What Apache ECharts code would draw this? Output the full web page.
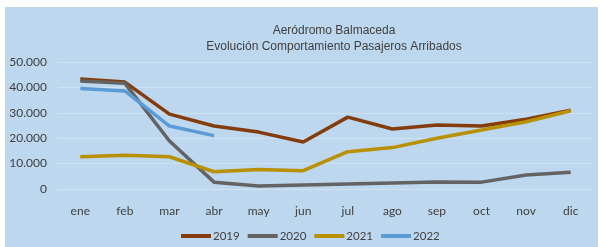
<!DOCTYPE html>
<html><head><meta charset="utf-8">
<script src="https://cdn.jsdelivr.net/npm/echarts@6/dist/echarts.min.js"></script>
<style>
html,body{margin:0;padding:0;background:#fff;}
#bg{position:absolute;left:5px;top:7px;width:593px;height:240px;background:#BDD7EE;}
#c{position:absolute;left:0;top:0;width:601px;height:247px;}
</style></head>
<body><div id="bg"></div><div id="c"></div>
<script>
const categories = ['ene','feb','mar','abr','may','jun','jul','ago','sep','oct','nov','dic'];
const s2019 = [43300, 42100, 29500, 24800, 22400, 18500, 28300, 23600, 25200, 24800, 27500, 31000];
const s2020 = [42500, 41600, 18900, 2700, 1200, 1600, 2000, 2400, 2800, 2700, 5500, 6600];
const s2021 = [12700, 13300, 12700, 6800, 7700, 7200, 14700, 16300, 20000, 23200, 26500, 30800];
const s2022 = [39600, 38600, 24800, 21000];
const yTicks = {min:0, max:50000, interval:10000};
const titleLines = ['Aeródromo Balmaceda','Evolución Comportamiento Pasajeros Arribados'];

const fmt = v => v === 0 ? '0' : String(v).replace(/\B(?=(\d{3})+(?!\d))/g, '.');
const mk = (name, data, color) => ({name, type:'line', data, symbol:'none', smooth:false,
  lineStyle:{width:3.5, color}, itemStyle:{color}});
const chart = echarts.init(document.getElementById('c'));
chart.setOption({
  backgroundColor:'transparent',
  animation:false,
  title:{text:titleLines.join('\n'), left:329, top:18, textAlign:'center',
    textStyle:{fontFamily:'Liberation Sans', fontSize:12, fontWeight:'normal', color:'#404040', lineHeight:16}},
  legend:{top:225, left:176, itemWidth:30, itemHeight:4, itemGap:8,
    icon:'rect',
    textStyle:{fontFamily:'Lato', fontSize:11.5, color:'#404040', padding:[0,0,0,-3]}},
  grid:{left:58, right:8, top:62, bottom:58},
  xAxis:{type:'category', data:categories, boundaryGap:true,
    axisLine:{show:false}, axisTick:{show:false},
    axisLabel:{fontFamily:'Lato', fontSize:12, color:'#404040', margin:16}},
  yAxis:{type:'value', min:yTicks.min, max:yTicks.max, interval:yTicks.interval,
    axisLine:{show:false}, axisTick:{show:false},
    splitLine:{lineStyle:{color:'#D0E1F2', width:1}},
    axisLabel:{fontFamily:'Lato', fontSize:12, color:'#404040', margin:11, formatter:fmt}},
  series:[
    mk('2019', s2019, '#843C0C'),
    mk('2020', s2020, '#636363'),
    mk('2021', s2021, '#B89000'),
    mk('2022', s2022, '#5B9BD5')
  ]
});
</script></body></html>
